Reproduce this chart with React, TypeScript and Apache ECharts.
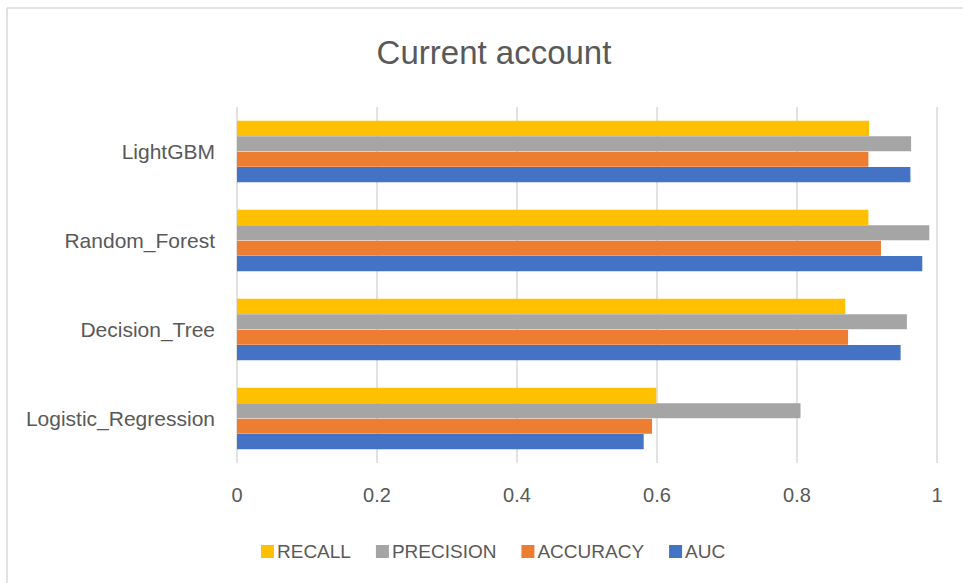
import React, { useEffect, useRef } from "react";
import * as echarts from "echarts";

const categories = ["Logistic_Regression", "Decision_Tree", "Random_Forest", "LightGBM"];
const recall = [0.599, 0.869, 0.902, 0.903];
const precision = [0.805, 0.957, 0.989, 0.963];
const accuracy = [0.593, 0.873, 0.92, 0.902];
const auc = [0.581, 0.948, 0.979, 0.962];

const FONT = "Liberation Sans, Arial, sans-serif";
const TXT = "#595959";

export default function App() {
  const ref = useRef<HTMLDivElement>(null);
  useEffect(() => {
    if (!ref.current) return;
    const chart = echarts.init(ref.current, null, { renderer: "svg" });
    const mk = (name: string, data: number[], color: string) => ({
      name,
      type: "bar",
      data,
      barGap: "2%",
      barCategoryGap: "31%",
      itemStyle: { color },
    });
    chart.setOption({
      animation: false,
      backgroundColor: "#ffffff",
      textStyle: { fontFamily: FONT },
      title: {
        text: "Current account",
        left: 489,
        textAlign: "center",
        top: 31,
        textStyle: { fontFamily: FONT, fontSize: 33, fontWeight: "normal", color: TXT },
      },
      graphic: [
        { type: "line", shape: { x1: 7, y1: 8, x2: 7, y2: 583 }, style: { stroke: "#d9d9d9", lineWidth: 1.5 } },
        { type: "line", shape: { x1: 7, y1: 8, x2: 963, y2: 8 }, style: { stroke: "#d9d9d9", lineWidth: 1.5 } },
      ],
      legend: {
        data: ["RECALL", "PRECISION", "ACCURACY", "AUC"],
        left: 256,
        top: 537,
        itemWidth: 13,
        itemHeight: 13,
        itemGap: 25,
        icon: "rect",
        textStyle: { fontFamily: FONT, fontSize: 19, color: TXT, padding: [0, 0, 0, -2] },
      },
      grid: { left: 237, right: 26, top: 107, bottom: 120, containLabel: false },
      xAxis: {
        type: "value",
        min: 0,
        max: 1,
        interval: 0.2,
        axisLine: { show: false },
        axisTick: { show: false },
        splitLine: { lineStyle: { color: "#d9d9d9", width: 1.5 } },
        axisLabel: { color: TXT, fontSize: 20, margin: 22, fontFamily: FONT },
      },
      yAxis: {
        type: "category",
        data: categories,
        axisLine: { show: false },
        axisTick: { show: false },
        axisLabel: { color: TXT, fontSize: 21, margin: 22, fontFamily: FONT },
      },
      series: [
        mk("RECALL", recall, "#FFC000"),
        mk("PRECISION", precision, "#A5A5A5"),
        mk("ACCURACY", accuracy, "#ED7D31"),
        mk("AUC", auc, "#4472C4"),
      ],
    });
    return () => chart.dispose();
  }, []);
  return (
    <div
      ref={ref}
      style={{ position: "absolute", left: 0, top: 0, width: 963, height: 583, background: "#fff" }}
    />
  );
}
